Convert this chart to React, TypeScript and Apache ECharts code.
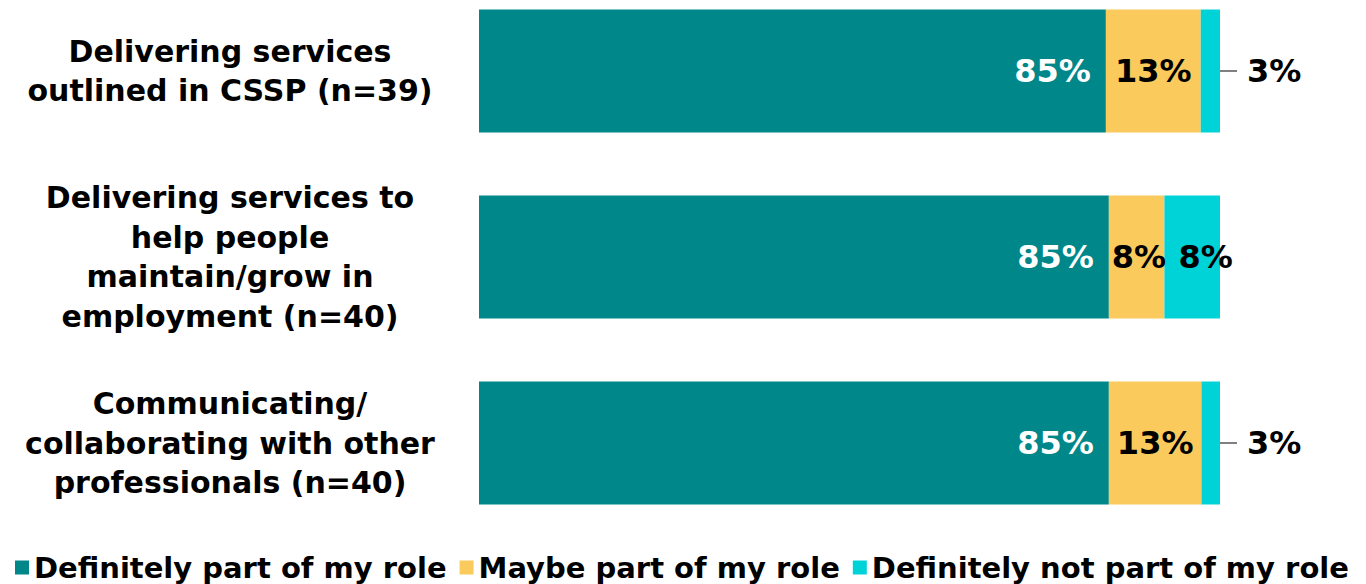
import React, { useEffect, useRef } from "react";
import * as echarts from "echarts";

const categories = [
  "Delivering services\noutlined in CSSP (n=39)",
  "Delivering services to\nhelp people\nmaintain/grow in\nemployment (n=40)",
  "Communicating/\ncollaborating with other\nprofessionals (n=40)",
];
const seriesNames = [
  "Definitely part of my role",
  "Maybe part of my role",
  "Definitely not part of my role",
];
const definitelyPart = [84.6, 85, 85];
const maybePart = [12.8, 7.5, 12.5];
const notPart = [2.6, 7.5, 2.5];

const FONT = "'DejaVu Sans', Verdana, sans-serif";
const colors = ["#00878A", "#FACB5C", "#00D3D8"];

export default function App() {
  const ref = useRef<HTMLDivElement>(null);
  useEffect(() => {
    if (!ref.current) return;
    const chart = echarts.init(ref.current, undefined, { renderer: "svg" });
    const fmt = (p: any) => Math.round(p.value) + "%";
    const baseLabel = {
      show: true,
      fontFamily: FONT,
      fontWeight: "bold",
      fontSize: 32,
      formatter: fmt,
    };
    chart.setOption({
      animation: false,
      color: colors,
      textStyle: { fontFamily: FONT },
      grid: { left: 479, right: 146, top: 0, height: 558 },
      legend: {
        top: 570,
        left: 10,
        icon: "rect",
        itemWidth: 14,
        itemHeight: 14,
        itemGap: 13,
        textStyle: { fontFamily: FONT, fontWeight: "bold", fontSize: 29, color: "#000" },
        data: seriesNames,
      },
      xAxis: {
        type: "value",
        min: 0,
        max: 100,
        show: false,
      },
      yAxis: {
        type: "category",
        inverse: true,
        data: categories,
        axisLine: { show: false },
        axisTick: { show: false },
        axisLabel: {
          align: "center",
          margin: 249,
          fontFamily: FONT,
          fontWeight: "bold",
          fontSize: 30,
          lineHeight: 39.5,
          color: "#000",
        },
      },
      series: [
        {
          name: seriesNames[0],
          type: "bar",
          stack: "total",
          barWidth: 123,
          data: definitelyPart,
          label: { ...baseLabel, position: "insideRight", distance: 15, color: "#fff" },
        },
        {
          name: seriesNames[1],
          type: "bar",
          stack: "total",
          barWidth: 123,
          data: maybePart.map((v, i) =>
            i === 1
              ? { value: v, label: { position: "insideLeft", distance: 3 } }
              : v
          ),
          label: { ...baseLabel, position: "inside", color: "#000" },
        },
        {
          name: seriesNames[2],
          type: "bar",
          stack: "total",
          barWidth: 123,
          data: notPart.map((v, i) =>
            i === 1
              ? {
                  value: v,
                  label: { position: "insideLeft", distance: 14, formatter: fmt },
                }
              : v
          ),
          label: {
            ...baseLabel,
            position: "right",
            distance: 0,
            color: "#000",
            formatter: (p: any) => "{l|}{v|" + Math.round(p.value) + "%}",
            rich: {
              l: { width: 17, height: 1, backgroundColor: "#000", verticalAlign: "middle" },
              v: {
                fontFamily: FONT,
                fontWeight: "bold",
                fontSize: 32,
                color: "#000",
                padding: [0, 0, 0, 10],
              },
            },
          },
        },
      ],
    });
    return () => chart.dispose();
  }, []);
  return (
    <div
      ref={ref}
      style={{ position: "fixed", left: 0, top: -22, width: 1366, height: 606, background: "#fff" }}
    />
  );
}
